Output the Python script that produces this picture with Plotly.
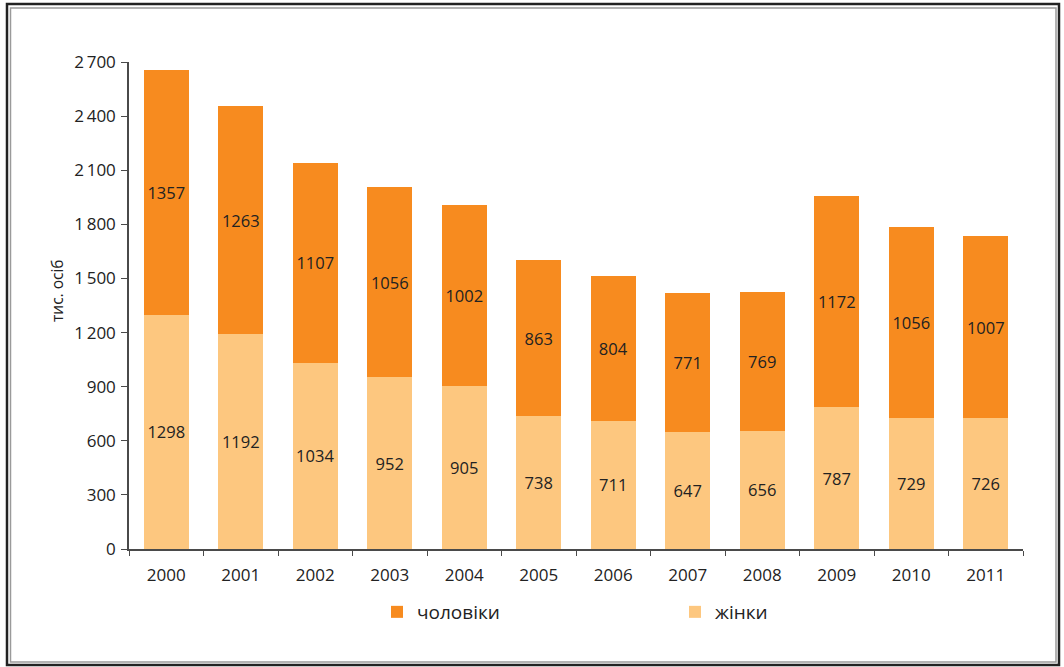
import plotly.graph_objects as go

years = ["2000", "2001", "2002", "2003", "2004", "2005", "2006",
         "2007", "2008", "2009", "2010", "2011"]
women = [1298, 1192, 1034, 952, 905, 738, 711, 647, 656, 787, 729, 726]
men = [1357, 1263, 1107, 1056, 1002, 863, 804, 771, 769, 1172, 1056, 1007]

y_ticks = [0, 300, 600, 900, 1200, 1500, 1800, 2100, 2400, 2700]
y_tick_text = ["0", "300", "600", "900", "1\u2009200", "1\u2009500",
               "1\u2009800", "2\u2009100", "2\u2009400", "2\u2009700"]

MEN_COLOR = "#F78B1F"
WOMEN_COLOR = "#FDC77F"
FONT = "Open Sans"
TEXT = "#222222"
AXIS = "#4a4a4a"

W, H = 1064, 667
ML, MR, MT, MB = 129, 41, 62, 118
PW, PH = W - ML - MR, H - MT - MB


def px_x(px):
    return (px - ML) / PW


def px_y(py):
    return (H - MB - py) / PH


fig = go.Figure()
# women at the bottom of each stack, men on top
fig.add_trace(go.Bar(
    x=years, y=women, name="жінки", marker=dict(color=WOMEN_COLOR, line=dict(width=0)),
    text=women, textposition="inside", insidetextanchor="middle", textangle=0,
    constraintext="none", textfont=dict(color=TEXT, size=16.5, family=FONT),
))
fig.add_trace(go.Bar(
    x=years, y=men, name="чоловіки", marker=dict(color=MEN_COLOR, line=dict(width=0)),
    text=men, textposition="inside", insidetextanchor="middle", textangle=0,
    constraintext="none", textfont=dict(color=TEXT, size=16.5, family=FONT),
))

fig.update_layout(
    width=W, height=H,
    barmode="stack", bargap=0.4,
    margin=dict(l=ML, r=MR, t=MT, b=MB),
    paper_bgcolor="white", plot_bgcolor="white",
    font=dict(family=FONT, size=17, color=TEXT),
    showlegend=True,
    legend=dict(
        orientation="h", traceorder="reversed",
        x=px_x(377), y=px_y(593), xanchor="left", yanchor="top",
        entrywidth=253, entrywidthmode="pixels",
        font=dict(size=19, family=FONT, color=TEXT),
    ),
    xaxis=dict(
        type="category", tickson="boundaries", ticks="outside", ticklen=5,
        tickcolor=AXIS, showline=True, linecolor=AXIS, linewidth=1.5,
        showgrid=False, tickfont=dict(size=17), ticklabelstandoff=10,
    ),
    yaxis=dict(
        range=[0, 2700], tickvals=y_ticks, ticktext=y_tick_text,
        ticks="outside", ticklen=6, tickcolor=AXIS,
        showline=True, linecolor=AXIS, linewidth=1.5, showgrid=False,
        zeroline=False, tickfont=dict(size=17), ticklabelstandoff=2,
    ),
    annotations=[
        dict(text="тис. осіб", xref="paper", yref="paper",
             x=px_x(57), y=px_y(291), xanchor="center", yanchor="middle",
             textangle=-90, showarrow=False,
             font=dict(size=15.5, family=FONT, color=TEXT)),
    ],
    shapes=[
        dict(type="rect", xref="paper", yref="paper",
             x0=px_x(7), x1=px_x(1059), y0=px_y(665), y1=px_y(4),
             line=dict(color="#222222", width=2.5), layer="above"),
        dict(type="rect", xref="paper", yref="paper",
             x0=px_x(10.5), x1=px_x(1056), y0=px_y(662), y1=px_y(8),
             line=dict(color="#9a9a9a", width=1.5), layer="above"),
    ],
)

fig.write_html("out.html")
